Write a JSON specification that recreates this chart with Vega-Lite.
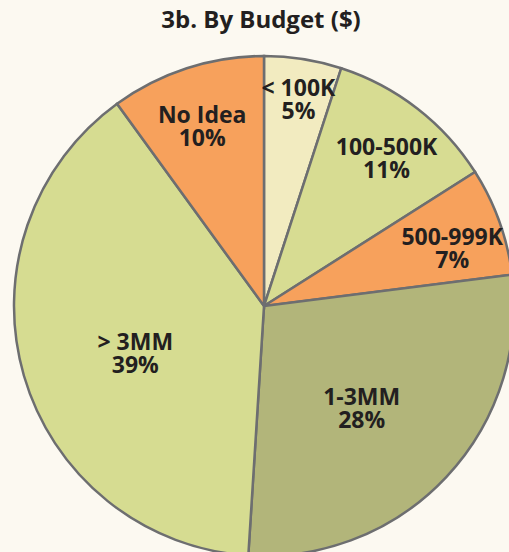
{
  "$schema": "https://vega.github.io/schema/vega-lite/v6.json",
  "autosize": {"type": "none"},
  "padding": {"left": 19, "top": 60, "right": 0, "bottom": 0},
  "width": 490,
  "height": 492,
  "background": "#fcf9f1",
  "title": {
    "text": "3b. By Budget ($)",
    "font": "Open Sans",
    "fontSize": 24,
    "fontWeight": "bold",
    "color": "#231f20",
    "offset": 18,
    "anchor": "middle",
    "dx": -3
  },
  "config": {"view": {"stroke": null}},
  "data": {
    "values": [
      {"category": "< 100K", "pct": 5, "order": 1, "label": "< 100K\n5%", "ring": "top"},
      {"category": "100-500K", "pct": 11, "order": 2, "label": "100-500K\n11%", "ring": "outer"},
      {"category": "500-999K", "pct": 7, "order": 3, "label": "500-999K\n7%", "ring": "outer"},
      {"category": "1-3MM", "pct": 28, "order": 4, "label": "1-3MM\n28%", "ring": "inner"},
      {"category": "> 3MM", "pct": 39, "order": 5, "label": "> 3MM\n39%", "ring": "inner"},
      {"category": "No Idea", "pct": 10, "order": 6, "label": "No Idea\n10%", "ring": "outer"}
    ]
  },
  "encoding": {
    "theta": {"field": "pct", "type": "quantitative", "stack": true},
    "order": {"field": "order", "type": "quantitative"}
  },
  "layer": [
    {
      "mark": {"type": "arc", "radius": 250, "stroke": "#6d6e70", "strokeWidth": 2.5},
      "encoding": {
        "color": {
          "field": "category",
          "type": "nominal",
          "scale": {
            "domain": ["< 100K", "100-500K", "500-999K", "1-3MM", "> 3MM", "No Idea"],
            "range": ["#f2ebc0", "#d7dc92", "#f7a15c", "#b2b57a", "#d6dc91", "#f7a15c"]
          },
          "legend": null
        }
      }
    },
    {
      "mark": {"type": "text", "radius": 200, "font": "Open Sans", "fontSize": 23, "fontWeight": "bold", "color": "#231f20", "lineBreak": "\n", "lineHeight": 23, "align": "center", "baseline": "middle"},
      "encoding": {
        "text": {"condition": {"test": "datum.ring == 'outer'", "field": "label"}, "value": ""}
      }
    },
    {
      "mark": {"type": "text", "radius": 220, "font": "Open Sans", "fontSize": 23, "fontWeight": "bold", "color": "#231f20", "lineBreak": "\n", "lineHeight": 23, "align": "center", "baseline": "middle"},
      "encoding": {
        "text": {"condition": {"test": "datum.ring == 'top'", "field": "label"}, "value": ""}
      }
    },
    {
      "mark": {"type": "text", "radius": 134, "font": "Open Sans", "fontSize": 23, "fontWeight": "bold", "color": "#231f20", "lineBreak": "\n", "lineHeight": 23, "align": "center", "baseline": "middle"},
      "encoding": {
        "text": {"condition": {"test": "datum.ring == 'inner'", "field": "label"}, "value": ""}
      }
    }
  ]
}
